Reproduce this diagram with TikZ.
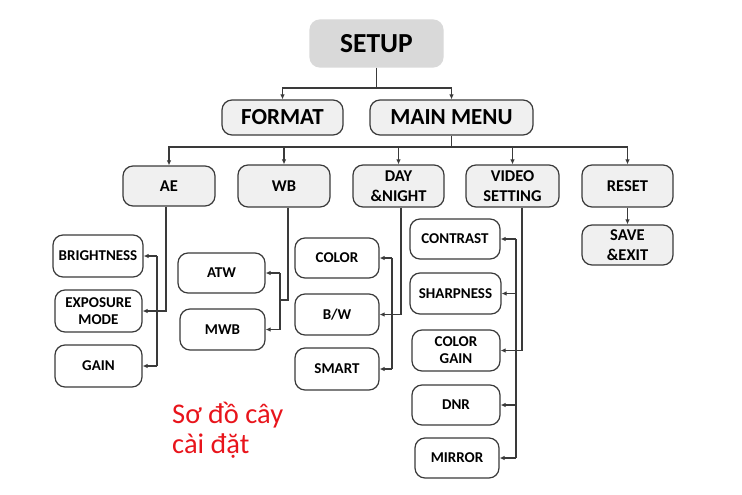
\documentclass[tikz,border=0pt]{standalone}
\usepackage{fontspec}
\setmainfont{Carlito}
\usetikzlibrary{arrows.meta}
\definecolor{edge}{HTML}{3A3A3A}
\definecolor{topfill}{HTML}{D9D9D9}
\definecolor{midfill}{HTML}{F0F0F0}
\definecolor{redtxt}{HTML}{E8141B}
\begin{document}
\begin{tikzpicture}[x=1pt,y=-1pt,
  base/.style={draw=edge,line width=1.2pt,rounded corners=10pt,align=center,inner sep=0pt,font=\bfseries},
  topbox/.style={base,draw=topfill,fill=topfill,font=\fontsize{27.5}{30}\selectfont\bfseries},
  l1box/.style={base,fill=midfill,font=\fontsize{23}{26}\selectfont\bfseries},
  l2box/.style={base,fill=midfill,font=\fontsize{16.5}{20}\selectfont\bfseries},
  l3box/.style={base,fill=white,font=\fontsize{15}{17}\selectfont\bfseries},
  con/.style={draw=edge,line width=1.1pt},
  arr/.style={con,-{Latex[length=5pt,width=4.5pt]}}
]
\useasboundingbox (0,0) rectangle (742,495);
% top
\node[topbox,minimum width=133pt,minimum height=47pt] (setup) at (376.5,43.5) {SETUP};
\node[l1box,minimum width=121pt,minimum height=35pt] (format) at (282.5,117.5) {FORMAT};
\node[l1box,minimum width=163pt,minimum height=35pt] (mainmenu) at (451.5,117.5) {MAIN MENU};
% level 2
\node[l2box,minimum width=92pt,minimum height=40pt] (ae) at (169,186) {AE};
\node[l2box,minimum width=92pt,minimum height=42pt] (wb) at (284,186) {WB};
\node[l2box,minimum width=91pt,minimum height=42pt] (dn) at (398.5,186) {DAY\\\&NIGHT};
\node[l2box,minimum width=93pt,minimum height=42pt] (vs) at (512.5,186) {VIDEO\\SETTING};
\node[l2box,minimum width=91pt,minimum height=42pt] (reset) at (627.5,186) {RESET};
\node[l2box,minimum width=91pt,minimum height=40pt] (save) at (627.5,245) {SAVE\\\&EXIT};
% level 3
\node[l3box,minimum width=90pt,minimum height=42pt] (bright) at (98,256) {BRIGHTNESS};
\node[l3box,minimum width=87pt,minimum height=42pt] (expo) at (98.5,311) {EXPOSURE\\MODE};
\node[l3box,minimum width=87pt,minimum height=42pt] (gain) at (98.5,366) {GAIN};
\node[l3box,minimum width=87pt,minimum height=40pt] (atw) at (221.5,273) {ATW};
\node[l3box,minimum width=85pt,minimum height=41pt] (mwb) at (222.5,329.5) {MWB};
\node[l3box,minimum width=84pt,minimum height=40pt] (color) at (337,258) {COLOR};
\node[l3box,minimum width=84pt,minimum height=41pt] (bw) at (337,314.5) {B/W};
\node[l3box,minimum width=84pt,minimum height=42pt] (smart) at (337,369) {SMART};
\node[l3box,minimum width=90pt,minimum height=40pt] (contrast) at (455,239) {CONTRAST};
\node[l3box,minimum width=91pt,minimum height=41pt] (sharp) at (455.5,293.5) {SHARPNESS};
\node[l3box,minimum width=88pt,minimum height=41pt] (cgain) at (456,350.5) {COLOR\\GAIN};
\node[l3box,minimum width=88pt,minimum height=40pt] (dnr) at (456,405) {DNR};
\node[l3box,minimum width=84pt,minimum height=40pt] (mirror) at (457,458) {MIRROR};
% caption
\node[text=redtxt,align=left,anchor=base west,inner sep=0pt,font=\fontsize{28.5}{30}\selectfont] (cap) at (172,453) {Sơ đồ cây\\cài đặt};
% connectors top
\coordinate (j0) at (376.5,88);
\draw[con] (setup.south) -- (j0);
\draw[arr] (j0) -| (format.north);
\draw[arr] (j0) -| (mainmenu.north);
\coordinate (bus) at (451.5,147);
\draw[con] (mainmenu.south) -- (bus);
\draw[arr] (bus) -| (ae.north);
\draw[arr] (bus) -| (wb.north);
\draw[arr] (bus) -| (dn.north);
\draw[arr] (bus) -| (vs.north);
\draw[arr] (bus) -| (reset.north);
\draw[arr] (reset.south) -- (save.north);
% AE
\coordinate (aeb) at (157,0);
\draw[arr] ([xshift=-3pt]ae.south) |- (expo.east);
\draw[con] (bright.east -| aeb) -- (gain.east -| aeb);
\draw[arr] (bright.east -| aeb) -- (bright.east);
\draw[arr] (gain.east -| aeb) -- (gain.east);
% WB
\coordinate (wbb) at (280,0);
\coordinate (wbj) at (288,300);
\draw[con] ([xshift=4pt]wb.south) -- (wbj) -- (wbj -| wbb);
\draw[con] (atw.east -| wbb) -- (mwb.east -| wbb);
\draw[arr] (atw.east -| wbb) -- (atw.east);
\draw[arr] (mwb.east -| wbb) -- (mwb.east);
% Day & Night
\coordinate (dnb) at (392,0);
\draw[arr] ([xshift=2.5pt]dn.south) |- (bw.east);
\draw[con] (color.east -| dnb) -- (smart.east -| dnb);
\draw[arr] (color.east -| dnb) -- (color.east);
\draw[arr] (smart.east -| dnb) -- (smart.east);
% Video setting
\coordinate (vsb) at (516,0);
\draw[arr] ([xshift=9.5pt]vs.south) |- (cgain.east);
\draw[con] (contrast.east -| vsb) -- (mirror.east -| vsb);
\draw[arr] (contrast.east -| vsb) -- (contrast.east);
\draw[arr] (sharp.east -| vsb) -- (sharp.east);
\draw[arr] (dnr.east -| vsb) -- (dnr.east);
\draw[arr] (mirror.east -| vsb) -- (mirror.east);
\end{tikzpicture}
\end{document}
